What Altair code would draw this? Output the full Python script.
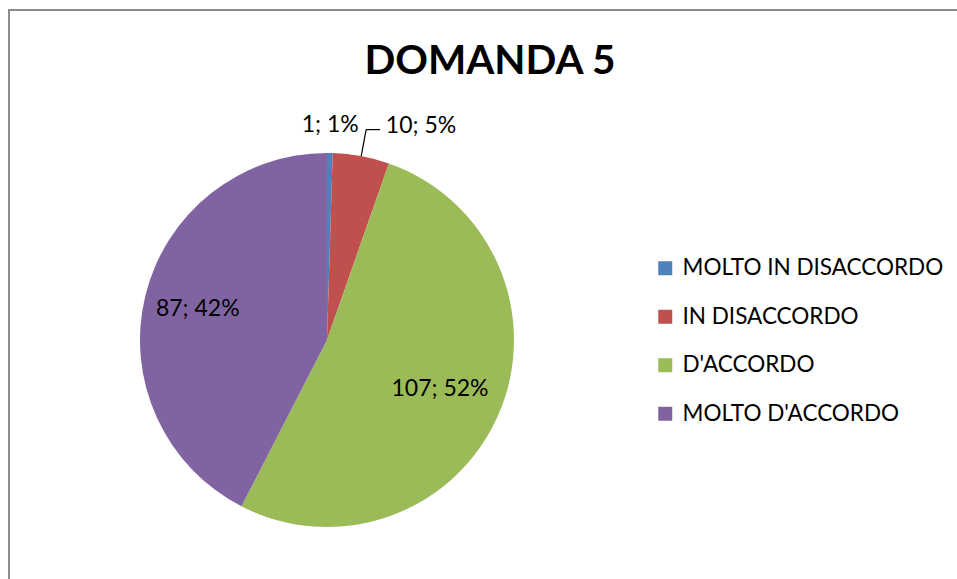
import math
import altair as alt
import pandas as pd

# ---- data ----
categories = ["MOLTO IN DISACCORDO", "IN DISACCORDO", "D'ACCORDO", "MOLTO D'ACCORDO"]
values = [1, 10, 107, 87]
percents = [1, 5, 52, 42]
colors = ["#4F81BD", "#C0504D", "#9BBB59", "#8064A2"]
title_text = "DOMANDA 5"

# ---- layout constants ----
W, H = 957, 579
CX, CY, R = 327, 340, 187
FONT = "Lato"
label_radius = [215, 218, 123, 133]
label_align = ["center", "left", "center", "center"]
label_dx = [0, 19, 0, 0]

df = pd.DataFrame({
    "idx": list(range(len(categories))),
    "cat": categories,
    "value": values,
    "label": [f"{v}; {p}%" for v, p in zip(values, percents)],
})

base = alt.Chart(df).encode(
    theta=alt.Theta("value:Q", stack=True),
    order=alt.Order("idx:Q"),
    x=alt.value(CX),
    y=alt.value(CY),
)

pie = base.mark_arc(outerRadius=R).encode(
    color=alt.Color(
        "cat:N",
        scale=alt.Scale(domain=categories, range=colors),
        sort=categories,
        legend=alt.Legend(
            orient="none", legendX=654, legendY=257, title=None,
            symbolType="square", symbolSize=196, symbolStrokeWidth=0,
            labelFont=FONT, labelFontSize=22.5, labelColor="black",
            rowPadding=25.5, labelOffset=6, labelLimit=400, padding=0,
        ),
    )
)

label_layers = []
for i in range(len(categories)):
    label_layers.append(
        base.mark_text(
            radius=label_radius[i], align=label_align[i], dx=label_dx[i],
            baseline="middle", font=FONT, fontSize=23, color="black",
        ).encode(
            text=alt.condition(f"datum.idx == {i}", alt.Text("label:N"), alt.value(""))
        )
    )

# leader line for the small red slice, derived from its mid-angle
total = sum(values)
mid = (values[0] + values[1] / 2) / total * 2 * math.pi
sx, sy = CX + R * math.sin(mid), CY - R * math.cos(mid)
ex, ey = CX + (R + 27) * math.sin(mid), CY - (R + 27) * math.cos(mid)
leader_df = pd.DataFrame({"x": [sx, ex], "y": [sy, ey], "x2": [ex, ex + 14], "y2": [ey, ey]})
leader = alt.Chart(leader_df).mark_rule(color="black", strokeWidth=1.2).encode(
    x=alt.X("x:Q", scale=None), y=alt.Y("y:Q", scale=None),
    x2="x2:Q", y2="y2:Q",
)

# outer frame (left and top edges visible)
frame_left = alt.Chart(df).mark_rule(color="#8c8c8c", strokeWidth=2).encode(
    x=alt.value(9), y=alt.value(10), y2=alt.value(H + 5)
)
frame_top = alt.Chart(df).mark_rule(color="#8c8c8c", strokeWidth=2).encode(
    y=alt.value(10), x=alt.value(8), x2=alt.value(W + 5)
)

title = alt.Chart(pd.DataFrame({"t": [title_text]})).mark_text(
    font=FONT, fontSize=40.5, fontWeight="bold", color="black",
    align="center", baseline="alphabetic",
).encode(text="t:N", x=alt.value(490), y=alt.value(74))

chart = alt.layer(frame_left, frame_top, pie, *label_layers, leader, title).properties(
    width=W, height=H,
    autosize=alt.AutoSizeParams(type="none"),
    padding=0,
    background="white",
).configure_view(stroke=None)

chart.save("out.html", embed_options={"renderer": "svg", "actions": False})
